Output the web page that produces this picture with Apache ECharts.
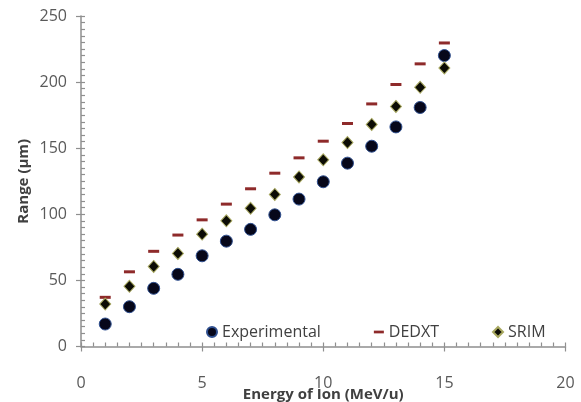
<!DOCTYPE html>
<html><head><meta charset="utf-8">
<script src="https://cdn.jsdelivr.net/npm/echarts@6/dist/echarts.min.js"></script>
<style>html,body{margin:0;padding:0;background:#fff}#c{width:581px;height:402px}</style>
</head><body><div id="c"></div>
<script>
const energy = [1,2,3,4,5,6,7,8,9,10,11,12,13,14,15];
const experimental = [17.0,30.1,44.0,54.6,68.6,79.7,88.6,99.6,111.5,124.6,138.7,151.5,166.1,180.8,220.1];
const dedxt = [37.2,56.5,72.0,84.3,95.8,107.7,119.3,131.1,142.7,155.3,168.7,183.5,198.2,213.8,229.6];
const srim = [32.1,45.5,60.6,70.4,85.0,95.1,104.5,115.0,128.3,141.2,154.3,168.0,181.6,196.1,210.7];
const xTicks = [0,5,10,15,20];
const yTicks = [0,50,100,150,200,250];

const FONT = '"Open Sans", sans-serif';
const pair = (ys) => energy.map((x,i)=>[x, ys[i]]);
const chart = echarts.init(document.getElementById('c'), null, {renderer:'canvas'});
const axisCol = '#8f8f8f';
chart.setOption({
  animation:false,
  grid:{left:81, right:15.5, top:16, bottom:55.5, outerBoundsMode:'none'},
  legend:{
    left:201, top:319, itemGap:53, itemWidth:10, itemHeight:10,
    textStyle:{fontFamily:FONT, fontSize:16, color:'#404040'},
    data:[
      {name:'Experimental', icon:'circle'},
      {name:'DEDXT', icon:'path://M0,4 L11,4 L11,7 L0,7 Z'},
      {name:'SRIM', icon:'diamond'}
    ]
  },
  xAxis:[{
    type:'value', min:xTicks[0], max:xTicks[xTicks.length-1], interval:5,
    name:'Energy of Ion (MeV/u)', nameLocation:'middle', nameGap:41, nameMoveOverlap:false,
    nameTextStyle:{fontFamily:FONT, fontSize:15, fontWeight:'bold', color:'#404040'},
    axisLine:{show:true, lineStyle:{color:axisCol, width:1.5}},
    axisTick:{show:true, length:5, lineStyle:{color:axisCol, width:1.2}},
    axisLabel:{fontFamily:FONT, fontSize:16, color:'#595959', margin:29},
    splitLine:{show:false}
  },{
    type:'value', min:0, max:20, interval:0.5, position:'bottom',
    axisLine:{show:false},
    axisTick:{show:true, inside:true, length:4, lineStyle:{color:axisCol, width:1.2}},
    axisLabel:{show:false}, splitLine:{show:false}
  }],
  yAxis:[{
    type:'value', min:yTicks[0], max:yTicks[yTicks.length-1], interval:50,
    name:'Range (µm)', nameLocation:'middle', nameGap:50, nameMoveOverlap:false,
    nameTextStyle:{fontFamily:FONT, fontSize:15, fontWeight:'bold', color:'#404040'},
    axisLine:{show:true, lineStyle:{color:axisCol, width:1.5}},
    axisTick:{show:true, length:5, lineStyle:{color:axisCol, width:1.2}},
    axisLabel:{fontFamily:FONT, fontSize:16, color:'#595959', margin:14},
    splitLine:{show:false}
  },{
    type:'value', min:0, max:250, interval:5, position:'left',
    axisLine:{show:false},
    axisTick:{show:true, inside:true, length:4, lineStyle:{color:axisCol, width:1.2}},
    axisLabel:{show:false}, splitLine:{show:false}
  }],
  series:[
    {name:'Experimental', type:'scatter', symbol:'circle', symbolSize:12,
     itemStyle:{color:'#06071a', borderColor:'#2f4f8f', borderWidth:1, opacity:1}, data:pair(experimental)},
    {name:'DEDXT', type:'scatter', symbol:'rect', symbolSize:[11,3],
     itemStyle:{color:'#8e2a2a', opacity:1}, data:pair(dedxt)},
    {name:'SRIM', type:'scatter', symbol:'diamond', symbolSize:[11,12],
     itemStyle:{color:'#0c0c05', borderColor:'#a8a860', borderWidth:1, opacity:1}, data:pair(srim)}
  ]
});
</script></body></html>
